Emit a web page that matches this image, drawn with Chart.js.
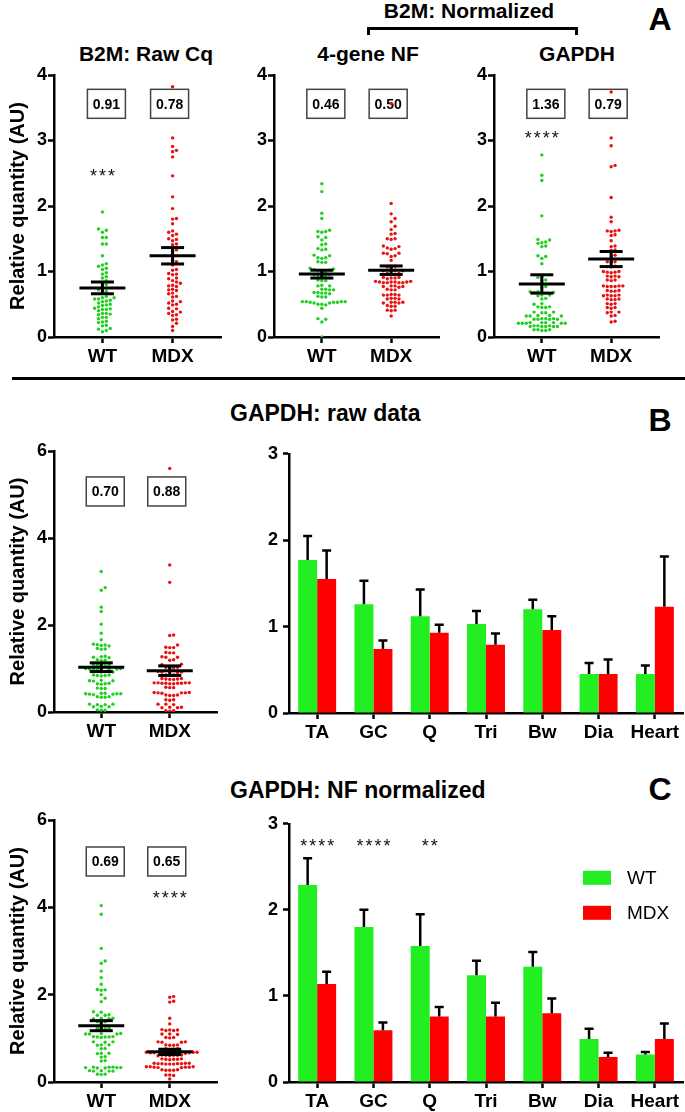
<!DOCTYPE html>
<html>
<head>
<meta charset="utf-8">
<script src="https://cdn.jsdelivr.net/npm/chart.js@4.4.0/dist/chart.umd.min.js"></script>
<style>
  body { margin: 0; width: 685px; height: 1112px; position: relative; background: #fff; overflow: hidden;
         font-family: "Liberation Sans", Arial, sans-serif; }
  canvas { position: absolute; }
  .t { position: absolute; font-weight: bold; color: #000; white-space: nowrap; line-height: 1; transform: translate(-50%, -50%); }
  .tl { position: absolute; font-weight: bold; color: #000; white-space: nowrap; line-height: 1; transform: translateY(-50%); }
</style>
</head>
<body>

<div class="t" style="left:146px;top:53px;font-size:21px">B2M: Raw Cq</div>
<div class="t" style="left:368px;top:53px;font-size:21px">4-gene NF</div>
<div class="t" style="left:577px;top:53px;font-size:21px">GAPDH</div>
<div class="t" style="left:469px;top:10px;font-size:21px">B2M: Normalized</div>
<div style="position:absolute;left:367px;top:27px;width:205px;height:5px;border:3px solid #000;border-bottom:none"></div>
<div class="t" style="left:660px;top:19px;font-size:32px">A</div>
<div style="position:absolute;left:12px;top:377px;width:673px;height:3px;background:#000"></div>
<div class="tl" style="left:230px;top:413px;font-size:23px">GAPDH: raw data</div>
<div class="t" style="left:660px;top:420px;font-size:32px">B</div>
<div class="tl" style="left:230px;top:790px;font-size:23px">GAPDH: NF normalized</div>
<div class="t" style="left:660px;top:789px;font-size:32px">C</div>

<script>
// ---------- data ----------
const groups = ['WT', 'MDX'];
const tissues = ['TA', 'GC', 'Q', 'Tri', 'Bw', 'Dia', 'Heart'];

// A: B2M raw Cq
const b2mRawWT = [1.91, 1.65, 1.63, 1.60, 1.52, 1.52, 1.42, 1.42, 1.24, 1.12, 1.10, 1.08, 1.05, 1.03, 0.98, 0.96, 0.92, 0.90,
  0.86, 0.82, 0.80, 0.76, 0.72, 0.70, 0.68, 0.62, 0.60, 0.60, 0.58, 0.58, 0.56, 0.55, 0.54, 0.52, 0.50, 0.49, 0.48, 0.46,
  0.44, 0.43, 0.42, 0.42, 0.40, 0.36, 0.36, 0.35, 0.34, 0.30, 0.30, 0.28, 0.24, 0.23, 0.22, 0.18, 0.17, 0.13, 0.12, 0.10, 0.08];
const b2mRawMDX = [3.82, 3.04, 2.91, 2.85, 2.83, 2.75, 2.46, 2.14, 1.96, 1.81, 1.80, 1.73, 1.62, 1.60, 1.57, 1.55, 1.50, 1.49,
  1.47, 1.42, 1.41, 1.33, 1.31, 1.17, 1.15, 1.10, 1.03, 1.02, 0.97, 0.96, 0.95, 0.90, 0.89, 0.86, 0.84, 0.82, 0.79, 0.78,
  0.77, 0.73, 0.72, 0.71, 0.67, 0.66, 0.62, 0.61, 0.55, 0.54, 0.52, 0.50, 0.49, 0.44, 0.43, 0.39, 0.38, 0.36, 0.34, 0.33,
  0.27, 0.26, 0.21, 0.16, 0.10];
const b2mRawMean = [0.75, 1.24];
const b2mRawSem = [0.09, 0.125];
const b2mRawBox = ['0.91', '0.78'];

// A: B2M normalized to 4-gene NF
const b2mNfWT = [2.34, 2.22, 1.89, 1.81, 1.63, 1.61, 1.61, 1.60, 1.53, 1.52, 1.48, 1.42, 1.41, 1.35, 1.34, 1.33, 1.25, 1.24,
  1.21, 1.21, 1.20, 1.15, 1.14, 1.14, 1.05, 1.04, 1.03, 1.02, 1.01, 1.00, 1.00, 0.95, 0.95, 0.94, 0.94, 0.93, 0.87, 0.86,
  0.86, 0.79, 0.78, 0.78, 0.73, 0.73, 0.72, 0.72, 0.68, 0.68, 0.67, 0.67, 0.66, 0.62, 0.61, 0.61, 0.54, 0.54, 0.54, 0.54,
  0.53, 0.53, 0.53, 0.52, 0.52, 0.50, 0.50, 0.49, 0.44, 0.28, 0.27, 0.23, 0.00];
const b2mNfMDX = [3.56, 2.04, 1.88, 1.81, 1.76, 1.69, 1.64, 1.58, 1.57, 1.50, 1.50, 1.49, 1.39, 1.38, 1.36, 1.35, 1.34, 1.28,
  1.28, 1.27, 1.24, 1.23, 1.17, 1.08, 1.08, 1.07, 1.02, 1.02, 1.01, 1.01, 0.97, 0.97, 0.96, 0.96, 0.91, 0.91, 0.90, 0.90,
  0.89, 0.85, 0.85, 0.84, 0.84, 0.84, 0.84, 0.83, 0.83, 0.83, 0.83, 0.78, 0.78, 0.77, 0.77, 0.76, 0.73, 0.72, 0.72, 0.65,
  0.65, 0.64, 0.64, 0.64, 0.59, 0.59, 0.58, 0.58, 0.53, 0.53, 0.53, 0.52, 0.52, 0.48, 0.47, 0.47, 0.41, 0.41, 0.40, 0.32];
const b2mNfMean = [0.96, 1.02];
const b2mNfSem = [0.06, 0.065];
const b2mNfBox = ['0.46', '0.50'];

// A: B2M normalized to GAPDH
const b2mGapWT = [2.78, 2.47, 2.39, 1.85, 1.49, 1.48, 1.45, 1.44, 1.43, 1.39, 1.38, 1.24, 1.23, 1.20, 1.12, 0.92, 0.91, 0.87,
  0.86, 0.77, 0.76, 0.69, 0.69, 0.68, 0.68, 0.67, 0.64, 0.64, 0.63, 0.59, 0.58, 0.51, 0.50, 0.46, 0.46, 0.45, 0.45, 0.38,
  0.38, 0.37, 0.37, 0.33, 0.33, 0.32, 0.32, 0.32, 0.28, 0.28, 0.28, 0.27, 0.27, 0.27, 0.27, 0.22, 0.22, 0.22, 0.22, 0.21,
  0.21, 0.21, 0.21, 0.21, 0.17, 0.17, 0.17, 0.16, 0.16, 0.16, 0.16, 0.16, 0.11, 0.11, 0.11, 0.10, 0.10];
const b2mGapMDX = [3.74, 3.04, 2.92, 2.62, 2.60, 2.13, 1.83, 1.76, 1.63, 1.62, 1.62, 1.61, 1.56, 1.55, 1.47, 1.39, 1.38, 1.33,
  1.32, 1.25, 1.24, 1.15, 1.15, 1.14, 1.08, 1.07, 1.00, 1.00, 0.99, 0.99, 0.98, 0.93, 0.93, 0.92, 0.92, 0.87, 0.87, 0.86,
  0.78, 0.78, 0.78, 0.77, 0.77, 0.77, 0.71, 0.71, 0.70, 0.70, 0.64, 0.64, 0.63, 0.63, 0.63, 0.58, 0.58, 0.57, 0.57, 0.51,
  0.51, 0.50, 0.45, 0.45, 0.44, 0.38, 0.38, 0.37, 0.33, 0.32, 0.24, 0.23];
const b2mGapMean = [0.81, 1.19];
const b2mGapSem = [0.14, 0.115];
const b2mGapBox = ['1.36', '0.79'];

// B: GAPDH raw data
const gapRawWT = [3.23, 2.86, 2.80, 2.41, 2.31, 2.02, 1.81, 1.66, 1.56, 1.55, 1.54, 1.53, 1.52, 1.46, 1.45, 1.44, 1.28, 1.27,
  1.26, 1.25, 1.20, 1.19, 1.18, 1.09, 1.08, 1.07, 1.06, 1.01, 1.00, 1.00, 0.99, 0.99, 0.98, 0.98, 0.97, 0.93, 0.92, 0.92,
  0.85, 0.85, 0.84, 0.84, 0.83, 0.73, 0.72, 0.72, 0.71, 0.66, 0.65, 0.65, 0.64, 0.55, 0.54, 0.54, 0.43, 0.43, 0.42, 0.42,
  0.42, 0.41, 0.41, 0.40, 0.35, 0.35, 0.34, 0.34, 0.18, 0.18, 0.17, 0.17, 0.13, 0.12, 0.12, 0.05, 0.04, 0.04];
const gapRawMDX = [5.60, 3.38, 2.98, 1.77, 1.76, 1.54, 1.49, 1.48, 1.48, 1.37, 1.36, 1.36, 1.27, 1.26, 1.26, 1.20, 1.19, 1.10,
  1.09, 1.03, 1.03, 1.02, 1.02, 0.93, 0.93, 0.92, 0.92, 0.91, 0.85, 0.85, 0.84, 0.77, 0.77, 0.76, 0.76, 0.75, 0.75, 0.67,
  0.67, 0.67, 0.67, 0.66, 0.66, 0.66, 0.66, 0.65, 0.65, 0.57, 0.56, 0.56, 0.45, 0.45, 0.44, 0.44, 0.44, 0.43, 0.39, 0.39,
  0.38, 0.38, 0.28, 0.28, 0.27, 0.18, 0.18, 0.17, 0.11, 0.11, 0.10, 0.10, 0.03, 0.03, 0.02];
const gapRawMean = [1.03, 0.95];
const gapRawSem = [0.10, 0.11];
const gapRawBox = ['0.70', '0.88'];
const gapRawTissueWT = [1.77, 1.26, 1.12, 1.03, 1.20, 0.45, 0.45];
const gapRawTissueMDX = [1.55, 0.74, 0.93, 0.79, 0.96, 0.45, 1.23];
const gapRawTissueSemWT = [0.28, 0.27, 0.31, 0.15, 0.11, 0.13, 0.10];
const gapRawTissueSemMDX = [0.33, 0.10, 0.09, 0.13, 0.16, 0.17, 0.58];

// C: GAPDH NF normalized
const gapNfWT = [4.04, 3.84, 3.06, 2.77, 2.72, 2.54, 2.39, 2.24, 2.12, 2.11, 2.10, 2.00, 1.92, 1.84, 1.61, 1.60, 1.54, 1.53,
  1.53, 1.46, 1.46, 1.45, 1.45, 1.38, 1.38, 1.37, 1.23, 1.23, 1.22, 1.22, 1.11, 1.11, 1.10, 1.10, 1.10, 1.04, 1.04, 1.03,
  1.03, 1.03, 1.02, 0.92, 0.92, 0.91, 0.85, 0.85, 0.84, 0.77, 0.76, 0.66, 0.66, 0.65, 0.58, 0.57, 0.49, 0.48, 0.34, 0.34,
  0.34, 0.33, 0.33, 0.33, 0.32, 0.32, 0.26, 0.26, 0.25, 0.25, 0.25, 0.18, 0.18, 0.17];
const gapNfMDX = [1.96, 1.94, 1.85, 1.83, 1.46, 1.33, 1.20, 1.19, 1.19, 1.18, 1.18, 1.10, 1.10, 1.09, 1.02, 1.02, 1.01, 0.92,
  0.92, 0.91, 0.91, 0.85, 0.85, 0.84, 0.84, 0.76, 0.76, 0.75, 0.69, 0.68, 0.68, 0.68, 0.67, 0.67, 0.67, 0.66, 0.62, 0.62,
  0.61, 0.61, 0.61, 0.60, 0.60, 0.53, 0.53, 0.52, 0.52, 0.52, 0.51, 0.43, 0.43, 0.43, 0.42, 0.42, 0.42, 0.42, 0.41, 0.41,
  0.41, 0.35, 0.35, 0.35, 0.34, 0.34, 0.34, 0.33, 0.33, 0.28, 0.28, 0.27, 0.27, 0.27, 0.16, 0.16, 0.15, 0.07];
const gapNfMean = [1.29, 0.69];
const gapNfSem = [0.115, 0.06];
const gapNfBox = ['0.69', '0.65'];
const gapNfTissueWT = [2.29, 1.80, 1.58, 1.24, 1.34, 0.50, 0.32];
const gapNfTissueMDX = [1.14, 0.60, 0.76, 0.76, 0.80, 0.29, 0.50];
const gapNfTissueSemWT = [0.31, 0.20, 0.37, 0.17, 0.17, 0.12, 0.03];
const gapNfTissueSemMDX = [0.14, 0.09, 0.11, 0.16, 0.17, 0.05, 0.18];

// significance marks: [category index, y value, text]
const b2mRawStars = [[0, 2.52, '***']];
const b2mGapStars = [[0, 3.11, '****']];
const gapNfStars = [[1, 4.32, '****']];
const gapNfTissueStars = [[0, 2.80, '****'], [1, 2.80, '****'], [2, 2.80, '**']];

// ---------- styling ----------
const FONT = '"Liberation Sans", Arial, sans-serif';
Chart.defaults.font.family = FONT;
Chart.defaults.color = '#000';
const GREEN_DOT = '#1fd01f', RED_DOT = '#ea1010';
const GREEN_BAR = '#22ee22', RED_BAR = '#ff0000';

function makeCanvas(left, top, w, h) {
  const c = document.createElement('canvas');
  c.width = w; c.height = h;
  c.style.left = left + 'px'; c.style.top = top + 'px';
  c.style.width = w + 'px'; c.style.height = h + 'px';
  document.body.appendChild(c);
  return c;
}

function drawStars(ctx, list, x, y) {
  ctx.save();
  ctx.fillStyle = '#111';
  ctx.font = '18px ' + FONT;
  ctx.letterSpacing = '2px';
  ctx.textAlign = 'center';
  list.forEach(([i, v, txt]) => {
    ctx.fillText(txt, x.getPixelForValue(i) + 1, y.getPixelForValue(v) + 10.5);
  });
  ctx.restore();
}

const dotExtras = {
  id: 'dotExtras',
  beforeDatasetsDraw(chart, args, o) {
    const {ctx, scales: {x, y}} = chart;
    ctx.save();
    ctx.strokeStyle = '#444';
    ctx.lineWidth = 1.5;
    ctx.font = 'bold 14px ' + FONT;
    ctx.fillStyle = '#000';
    ctx.textAlign = 'center';
    ctx.textBaseline = 'middle';
    o.box.forEach((txt, i) => {
      const cx = x.getPixelForValue(i) + (i === 0 ? 4 : -3);
      const cy = y.getPixelForValue(o.boxY);
      ctx.strokeRect(cx - 19, cy - 14.5, 38, 29);
      ctx.fillText(txt, cx, cy + 1);
    });
    ctx.restore();
  },
  afterDatasetsDraw(chart, args, o) {
    const {ctx, scales: {x, y}} = chart;
    ctx.save();
    ctx.strokeStyle = '#000';
    ctx.lineWidth = 3;
    const seg = (x1, y1, x2, y2) => { ctx.beginPath(); ctx.moveTo(x1, y1); ctx.lineTo(x2, y2); ctx.stroke(); };
    o.mean.forEach((m, i) => {
      const cx = x.getPixelForValue(i);
      const my = y.getPixelForValue(m);
      const hi = y.getPixelForValue(m + o.sem[i]);
      const lo = y.getPixelForValue(m - o.sem[i]);
      seg(cx, hi, cx, lo);
      seg(cx - 23, my, cx + 23, my);
      seg(cx - 11.5, hi, cx + 11.5, hi);
      seg(cx - 11.5, lo, cx + 11.5, lo);
    });
    ctx.restore();
    drawStars(ctx, o.stars, x, y);
  }
};

function dotPlot(left, top, w, h, yW, yMax, wt, mdx, mean, sem, box, boxY, stars, withTitle) {
  const canvas = makeCanvas(left, top, w, h);
  const chart = new Chart(canvas, {
    type: 'scatter',
    data: {
      datasets: [
        {label: 'WT', data: wt.map(v => ({x: 0, y: v})), backgroundColor: GREEN_DOT},
        {label: 'MDX', data: mdx.map(v => ({x: 1, y: v})), backgroundColor: RED_DOT}
      ]
    },
    options: {
      responsive: false, animation: false, devicePixelRatio: 1,
      layout: {padding: {top: 12, right: 4, left: 0, bottom: 0}},
      elements: {point: {radius: 1.7, borderWidth: 0, hoverRadius: 1.7}},
      plugins: {legend: {display: false}, tooltip: {enabled: false},
        dotExtras: {mean, sem, box, boxY, stars}},
      scales: {
        x: {
          type: 'linear', min: -0.69, max: 1.69,
          afterBuildTicks: s => { s.ticks = groups.map((g, i) => ({value: i})); },
          afterFit: s => { s.height = 30; },
          ticks: {callback: v => groups[v], font: {size: 19, weight: 'bold'}, padding: 2, maxRotation: 0, autoSkip: false},
          grid: {drawOnChartArea: false, tickLength: 6, tickWidth: 2.5, tickColor: '#000'},
          border: {color: '#000', width: 2.5}
        },
        y: {
          min: 0, max: yMax,
          afterFit: s => { s.width = yW; },
          ticks: {stepSize: yMax === 4 ? 1 : 2, font: {size: 18, weight: 'bold'}, padding: 1},
          grid: {drawOnChartArea: false, tickLength: 6, tickWidth: 2.5, tickColor: '#000'},
          border: {color: '#000', width: 2.5},
          title: {display: withTitle, text: 'Relative quantity (AU)', font: {size: 20, weight: 'bold'},
            padding: {top: 6, bottom: 0}}
        }
      }
    },
    plugins: [dotExtras]
  });

  // spread the points sideways (beeswarm) so they do not overlap
  const GAP = 3.9;
  const {x, y} = chart.scales;
  [wt, mdx].forEach((vals, gi) => {
    const cx = x.getPixelForValue(gi);
    const placed = [];
    const order = vals.map((v, i) => i).sort((a, b) => vals[a] - vals[b]);
    const pts = [];
    order.forEach(i => {
      const py = y.getPixelForValue(vals[i]);
      let off = 0;
      for (let n = 0; n < 200; n++) {
        off = (n % 2 ? 1 : -1) * Math.ceil(n / 2) * GAP;
        if (placed.every(p => Math.hypot(p[0] - off, p[1] - py) >= GAP - 0.01)) break;
      }
      placed.push([off, py]);
      pts.push({x: x.getValueForPixel(cx + off), y: vals[i]});
    });
    chart.data.datasets[gi].data = pts;
  });
  chart.update('none');
  return chart;
}

const barExtras = {
  id: 'barExtras',
  afterDatasetsDraw(chart, args, o) {
    const {ctx, scales: {x, y}} = chart;
    ctx.save();
    ctx.strokeStyle = '#000';
    ctx.lineWidth = 2.5;
    chart.data.datasets.forEach((ds, di) => {
      chart.getDatasetMeta(di).data.forEach((bar, i) => {
        const top = y.getPixelForValue(ds.data[i] + o.sem[di][i]);
        ctx.beginPath();
        ctx.moveTo(bar.x, bar.y); ctx.lineTo(bar.x, top);
        ctx.moveTo(bar.x - 4.5, top); ctx.lineTo(bar.x + 4.5, top);
        ctx.stroke();
      });
    });
    ctx.restore();
    drawStars(ctx, o.stars, x, y);
    if (o.legend) {
      const a = chart.chartArea;
      ctx.save();
      ctx.font = '19px ' + FONT;
      ctx.textBaseline = 'middle';
      chart.data.datasets.forEach((ds, di) => {
        const ly = a.top + 54 + di * 35;
        ctx.fillStyle = ds.backgroundColor;
        ctx.fillRect(a.right - 100, ly - 7, 28, 14);
        ctx.fillStyle = '#000';
        ctx.fillText(ds.label, a.right - 56, ly + 1);
      });
      ctx.restore();
    }
  }
};

function barPlot(left, top, w, h, wt, mdx, semWT, semMDX, stars, legend) {
  const canvas = makeCanvas(left, top, w, h);
  return new Chart(canvas, {
    type: 'bar',
    data: {
      labels: tissues,
      datasets: [
        {label: 'WT', data: wt, backgroundColor: GREEN_BAR, categoryPercentage: 0.675, barPercentage: 1},
        {label: 'MDX', data: mdx, backgroundColor: RED_BAR, categoryPercentage: 0.675, barPercentage: 1}
      ]
    },
    options: {
      responsive: false, animation: false, devicePixelRatio: 1,
      layout: {padding: {top: 12, right: 2, left: 0, bottom: 0}},
      plugins: {legend: {display: false}, tooltip: {enabled: false},
        barExtras: {sem: [semWT, semMDX], stars, legend}},
      scales: {
        x: {
          afterFit: s => { s.height = 30; },
          ticks: {font: {size: 19, weight: 'bold'}, padding: 2, maxRotation: 0, autoSkip: false},
          grid: {offset: false, drawOnChartArea: false, tickLength: 6, tickWidth: 2.5, tickColor: '#000'},
          border: {color: '#000', width: 2.5}
        },
        y: {
          min: 0, max: 3,
          afterFit: s => { s.width = 30; },
          ticks: {stepSize: 1, font: {size: 18, weight: 'bold'}, padding: 5},
          grid: {drawOnChartArea: false, tickLength: 6, tickWidth: 2.5, tickColor: '#000'},
          border: {color: '#000', width: 2.5}
        }
      }
    },
    plugins: [barExtras]
  });
}

// ---------- panels ----------
dotPlot(0, 63, 225, 304, 54, 4, b2mRawWT, b2mRawMDX, b2mRawMean, b2mRawSem, b2mRawBox, 3.56, b2mRawStars, true);
dotPlot(240, 63, 203, 304, 34, 4, b2mNfWT, b2mNfMDX, b2mNfMean, b2mNfSem, b2mNfBox, 3.56, [], false);
dotPlot(460, 63, 203, 304, 34, 4, b2mGapWT, b2mGapMDX, b2mGapMean, b2mGapSem, b2mGapBox, 3.56, b2mGapStars, false);

dotPlot(0, 439, 221, 303, 54, 6, gapRawWT, gapRawMDX, gapRawMean, gapRawSem, gapRawBox, 5.07, [], true);
barPlot(259, 438, 426, 305, gapRawTissueWT, gapRawTissueMDX, gapRawTissueSemWT, gapRawTissueSemMDX, [], false);

dotPlot(0, 808, 221, 304, 54, 6, gapNfWT, gapNfMDX, gapNfMean, gapNfSem, gapNfBox, 5.05, gapNfStars, true);
barPlot(259, 808, 426, 304, gapNfTissueWT, gapNfTissueMDX, gapNfTissueSemWT, gapNfTissueSemMDX, gapNfTissueStars, true);
</script>
</body>
</html>
